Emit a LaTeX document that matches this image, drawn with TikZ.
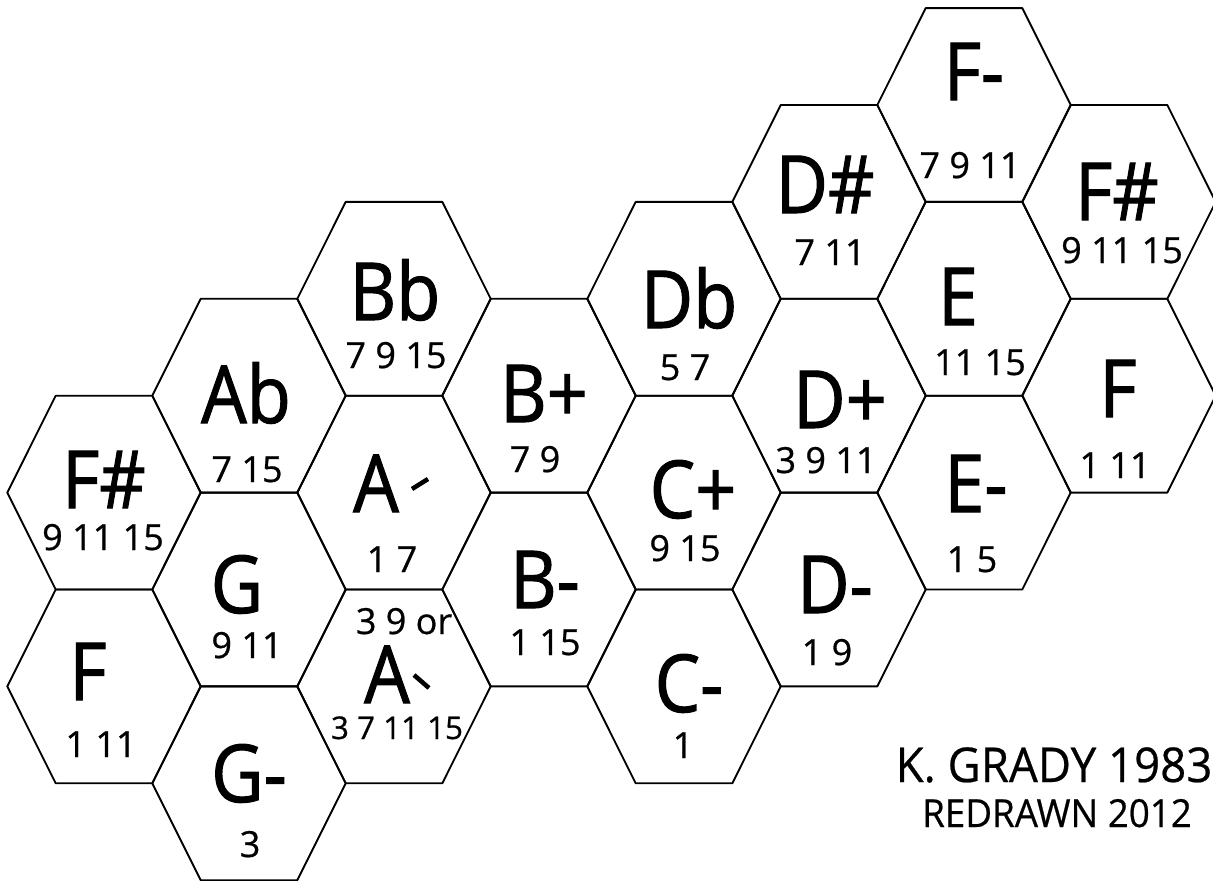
\documentclass[tikz,border=0pt]{standalone}
\usepackage{fontspec}
\setmainfont{Open Sans}
\newfontfamily\chordfont[FakeStretch=0.9,FakeBold=1.3]{Open Sans}
\newfontfamily\numfont[FakeBold=0.7]{Open Sans}
\newfontfamily\sigfont[FakeStretch=0.95,FakeBold=0.5]{Open Sans}
\tikzset{
  hexline/.style={draw=black, line width=1.4pt, line join=round},
  chord/.style={font=\chordfont\fontsize{60}{60}\selectfont, anchor=base, inner sep=0pt, text height=43pt, text depth=0pt},
  nums/.style={font=\numfont\fontsize{27}{27}\selectfont, anchor=base, inner sep=0pt, text height=19.5pt, text depth=0pt},
  smallnums/.style={font=\numfont\fontsize{23.5}{23.5}\selectfont, anchor=base, inner sep=0pt, text height=17pt, text depth=0pt},
  sigbig/.style={font=\sigfont\fontsize{36}{36}\selectfont, anchor=base, inner sep=0pt},
  sigsmall/.style={font=\sigfont\fontsize{29}{29}\selectfont, anchor=base, inner sep=0pt},
  tick/.style={line width=3.4pt},
}
\newcommand\hexcell[3]{%
  \coordinate (#1) at (#2,#3);
  \draw[hexline] (#1) ++(-96.7,0) -- ++(48.4,-96.9) -- ++(96.6,0) -- ++(48.4,96.9)
    -- ++(-48.4,96.9) -- ++(-96.6,0) -- cycle;}
\begin{document}
\begin{tikzpicture}[x=0.75pt,y=-0.75pt]
\useasboundingbox (0,0) rectangle (1213,881);
% column 0
\hexcell{hFsL}{104}{492.6}
\hexcell{hFL}{104}{686.4}
% column 1
\hexcell{hAb}{249}{395.7}
\hexcell{hG}{249}{589.5}
\hexcell{hGm}{249}{783.3}
% column 2
\hexcell{hBb}{394}{298.8}
\hexcell{hAu}{394}{492.6}
\hexcell{hAd}{394}{686.4}
% column 3
\hexcell{hBp}{539}{395.7}
\hexcell{hBm}{539}{589.5}
% column 4
\hexcell{hDb}{684}{298.8}
\hexcell{hCp}{684}{492.6}
\hexcell{hCm}{684}{686.4}
% column 5
\hexcell{hDs}{829}{201.9}
\hexcell{hDp}{829}{395.7}
\hexcell{hDm}{829}{589.5}
% column 6
\hexcell{hFm}{974}{105}
\hexcell{hE}{974}{298.8}
\hexcell{hEm}{974}{492.6}
% column 7
\hexcell{hFsR}{1119}{201.9}
\hexcell{hFR}{1119}{395.7}

% labels
\node[chord] (lFsL) at (104,508) {F\#};
\node[nums]  (nFsL) at (103,550) {9 11 15};
\node[chord] (lFL)  at (88,700) {F};
\node[nums]  (nFL)  at (101,757) {1 11};
\node[chord] (lG)   at (237,613) {G};
\node[nums]  (nG)   at (247,658) {9 11};
\node[chord] (lGm)  at (249,802) {G-};
\node[nums]  (nGm)  at (250,857) {3};
\node[chord] (lAb)  at (246,423) {Ab};
\node[nums]  (nAb)  at (247,482) {7 15};
\node[chord] (lBb)  at (395,320) {Bb};
\node[nums]  (nBb)  at (396,368) {7 9 15};
\node[chord] (lAu)  at (376,512) {A};
\draw[tick] (412,489) -- (428,479);
\node[nums]  (nAu)  at (392,572) {1 7};
\node[nums]  (oAd)  at (404,634) {3 9 or};
\node[chord] (lAd)  at (387,703) {A};
\draw[tick] (414,675) -- (429,688);
\node[smallnums] (nAd) at (397,739) {3 7 11 15};
\node[chord] (lBp)  at (544,422) {B+};
\node[nums]  (nBp)  at (535,472) {7 9};
\node[chord] (lBm)  at (545,608) {B-};
\node[nums]  (nBm)  at (545,655) {1 15};
\node[chord] (lCm)  at (689,712) {C-};
\node[nums]  (nCm)  at (683,758) {1};
\node[chord] (lCp)  at (693,518) {C+};
\node[nums]  (nCp)  at (685,561) {9 15};
\node[chord] (lDb)  at (689,328) {Db};
\node[nums]  (nDb)  at (685,380) {5 7};
\node[chord] (lDp)  at (840,428) {D+};
\node[nums]  (nDp)  at (826,473) {3 9 11};
\node[chord] (lDm)  at (835,613) {D-};
\node[nums]  (nDm)  at (827,665) {1 9};
\node[chord] (lE)   at (958,325) {E};
\node[nums]  (nE)   at (980,375) {11 15};
\node[chord] (lEm)  at (976,512) {E-};
\node[nums]  (nEm)  at (972,572) {1 5};
\node[chord] (lFR)  at (1118,417) {F};
\node[nums]  (nFR)  at (1115,478) {1 11};
\node[chord] (lDs)  at (825,213) {D\#};
\node[nums]  (nDs)  at (830,265) {7 11};
\node[chord] (lFm)  at (974,100) {F-};
\node[nums]  (nFm)  at (970,178) {7 9 11};
\node[chord] (lFsR) at (1117,220) {F\#};
\node[nums]  (nFsR) at (1122,263) {9 11 15};
% signature
\node[sigbig]   (sig1) at (1054,782) {K. GRADY 1983};
\node[sigsmall] (sig2) at (1057,827) {REDRAWN 2012};
\end{tikzpicture}
\end{document}
